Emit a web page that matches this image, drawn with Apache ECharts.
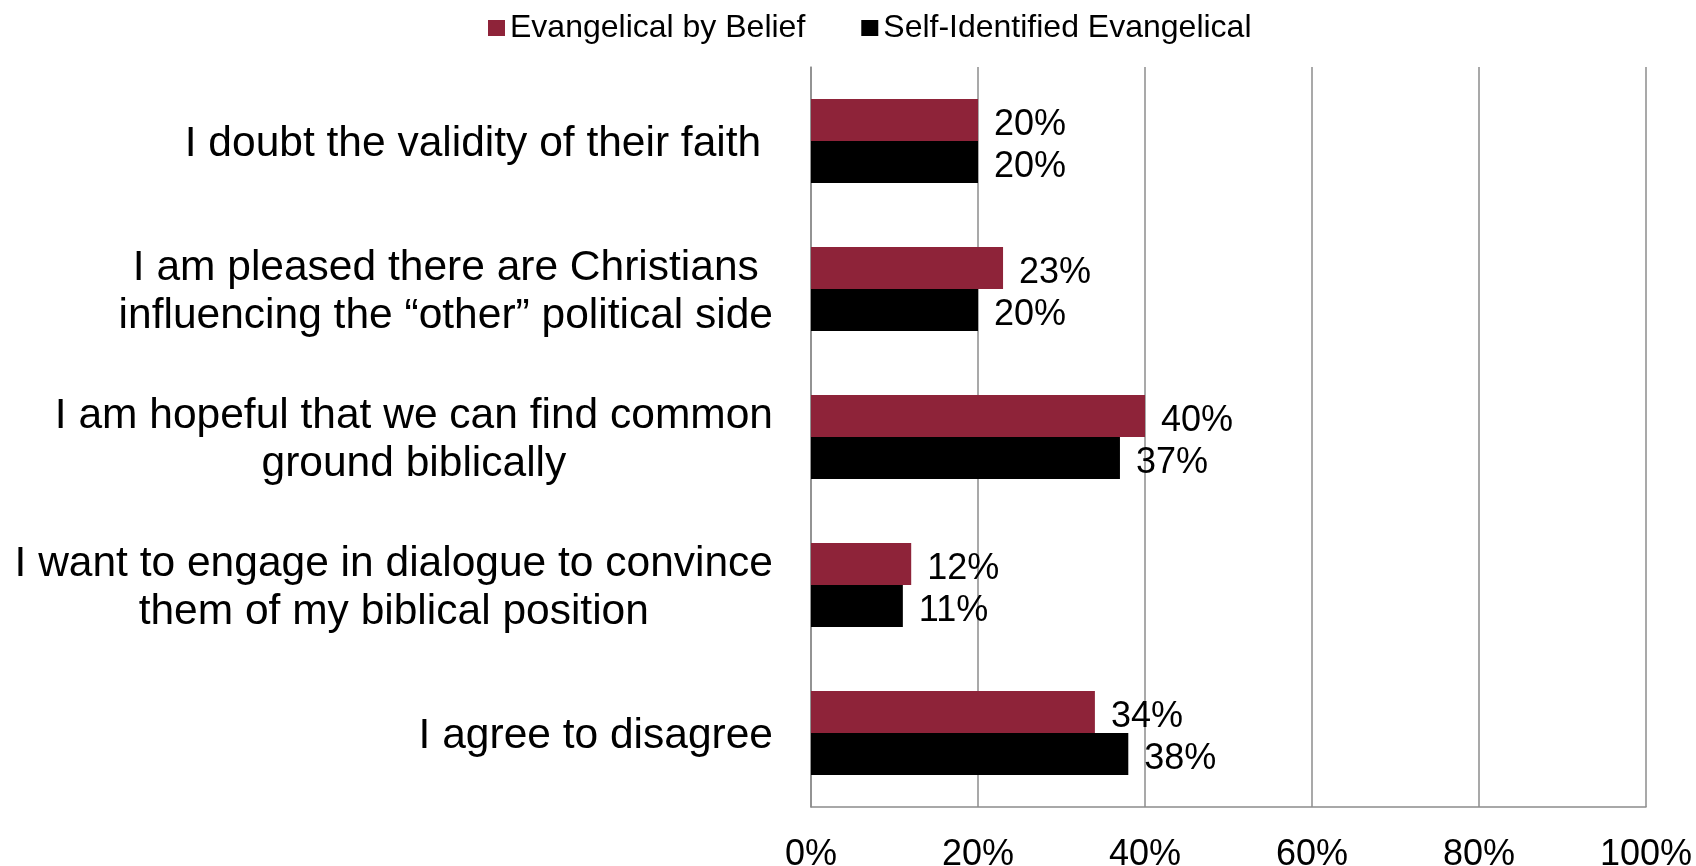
<!DOCTYPE html>
<html>
<head>
<meta charset="utf-8">
<script src="https://cdn.jsdelivr.net/npm/echarts@6/dist/echarts.min.js"></script>
<style>
  html, body { margin: 0; padding: 0; background: #ffffff; }
  #chart { width: 1696px; height: 866px; }
</style>
</head>
<body>
<div id="chart"></div>
<script>
// Survey responses (percent), one entry per statement, top to bottom
const categories = [
  "I doubt the validity of their faith ",
  "I am pleased there are Christians\ninfluencing the \u201Cother\u201D political side",
  "I am hopeful that we can find common\nground biblically",
  "I want to engage in dialogue to convince\nthem of my biblical position",
  "I agree to disagree"
];
const seriesNames = ["Evangelical by Belief", "Self-Identified Evangelical"];
const byBelief = [20, 23, 40, 12, 34];
const selfIdentified = [20, 20, 37, 11, 38];
const xTicks = [0, 20, 40, 60, 80, 100];

const FONT = "'Liberation Sans', Arial, Helvetica, sans-serif";
const GRID_COLOR = '#8c8c8c';
const colors = ['#8e2339', '#000000'];

const chart = echarts.init(document.getElementById('chart'), null, { renderer: 'canvas' });

const valueLabel = {
  show: true,
  position: 'right',
  distance: 16,
  offset: [0, 5],
  formatter: '{c}%',
  fontFamily: FONT,
  fontSize: 36,
  color: '#000'
};

chart.setOption({
  animation: false,
  backgroundColor: '#ffffff',
  color: colors,
  legend: {
    data: seriesNames,
    left: 483,
    top: 7,
    icon: 'rect',
    itemWidth: 17,
    itemHeight: 16,
    itemGap: 56,
    textStyle: { fontFamily: FONT, fontSize: 32, color: '#000' }
  },
  grid: {
    left: 811, right: 50, top: 67, bottom: 59,
    containLabel: false,
    outerBoundsMode: 'none'
  },
  xAxis: {
    type: 'value',
    min: xTicks[0],
    max: xTicks[xTicks.length - 1],
    interval: xTicks[1] - xTicks[0],
    axisLine: { show: true, lineStyle: { color: GRID_COLOR, width: 1.5 } },
    axisTick: { show: false },
    splitLine: { show: true, lineStyle: { color: GRID_COLOR, width: 1.5 } },
    axisLabel: {
      formatter: '{value}%',
      fontFamily: FONT,
      fontSize: 36,
      color: '#000',
      margin: 30
    }
  },
  yAxis: {
    type: 'category',
    inverse: true,
    data: categories,
    axisLine: { show: true, lineStyle: { color: GRID_COLOR, width: 1.5 } },
    axisTick: { show: false },
    splitLine: { show: false },
    axisLabel: {
      margin: 38,
      align: 'right',
      padding: [7, 0, 0, 0],
      fontFamily: FONT,
      fontSize: 42.5,
      color: '#000',
      // each line centred within the label block
      formatter: function (v) {
        return v.split('\n').map(function (l) { return '{c|' + l + '}'; }).join('\n');
      },
      rich: {
        c: { align: 'center', fontFamily: FONT, fontSize: 42.5, lineHeight: 48, color: '#000' }
      }
    }
  },
  series: [
    {
      name: seriesNames[0],
      type: 'bar',
      data: byBelief,
      barWidth: 42,
      barGap: '0%',
      label: valueLabel,
      itemStyle: { color: colors[0] }
    },
    {
      name: seriesNames[1],
      type: 'bar',
      data: selfIdentified,
      barWidth: 42,
      barGap: '0%',
      label: valueLabel,
      itemStyle: { color: colors[1] }
    }
  ]
});
</script>
</body>
</html>
